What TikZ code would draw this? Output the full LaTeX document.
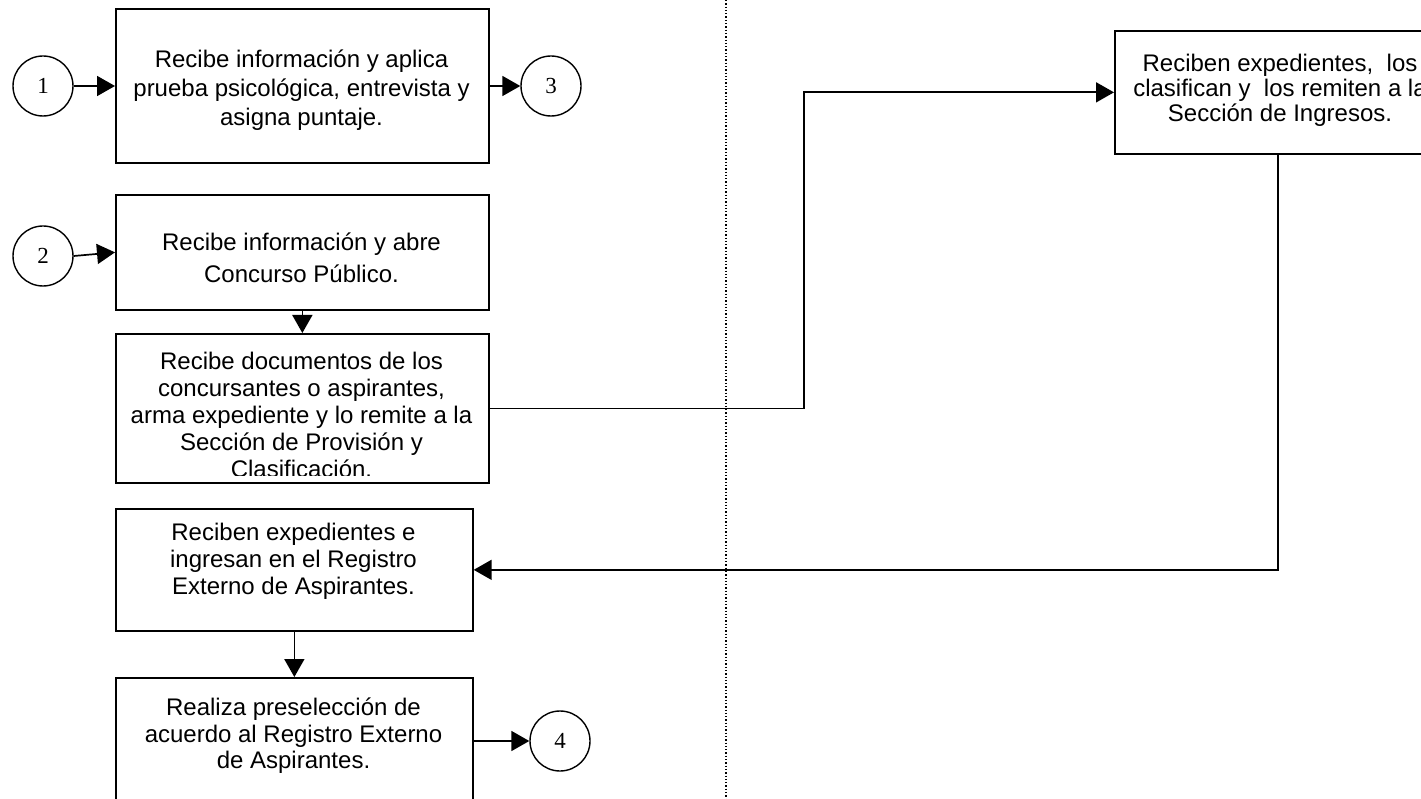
\documentclass[tikz,border=0pt]{standalone}
\usepackage{fontspec}
\setmainfont{Liberation Sans}
\newfontfamily\numfont{Liberation Serif}
\usetikzlibrary{arrows.meta,calc}
\tikzset{
  box/.style={draw, line width=1.7pt, rectangle, inner sep=0pt, anchor=north west},
  txt/.style={align=center, inner sep=0pt, anchor=north,
    font=\fontsize{24pt}{#1}\selectfont, execute at begin node={\rule{0pt}{22pt}}},
  conn/.style={draw, circle, line width=1.4pt, minimum size=60pt, inner sep=0pt, font=\numfont\fontsize{23pt}{25pt}\selectfont},
  arr/.style={line width=1.7pt, -{Triangle[length=18pt,width=20pt]}},
}
\begin{document}
\begin{tikzpicture}[x=1pt,y=1pt]
\useasboundingbox (0,0) rectangle (1421,-799);
\clip (0,0) rectangle (1421,-799);
\fill[white] (0,0) rectangle (1421,-799);
% swimlane separator
\draw[line width=1.3pt, dotted] (726,0) -- (726,-799);
% boxes
\node[box, minimum width=373pt, minimum height=154pt] (b1) at (115,-8) {};
\node[txt=29pt] (t1) at (301.5,-50) {Recibe información y aplica\\prueba psicológica, entrevista y\\asigna puntaje.};
\node[box, minimum width=373pt, minimum height=115pt] (b2) at (115,-194) {};
\node[txt=32pt] (t2) at (301.5,-233) {Recibe información y abre\\Concurso Público.};
\node[box, minimum width=373pt, minimum height=149pt] (b3) at (115,-333) {};
\begin{scope}
\clip (115,-333) rectangle (488,-475);
\node[txt=27pt] (t3) at (301.5,-352) {Recibe documentos de los\\concursantes o aspirantes,\\arma expediente y lo remite a la\\Sección de Provisión y\\Clasificación.};
\end{scope}
\node[box, minimum width=357pt, minimum height=122pt] (b4) at (115,-508) {};
\node[txt=27pt] (t4) at (293.5,-523) {Reciben expedientes e\\ingresan en el Registro\\Externo de Aspirantes.};
\node[box, minimum width=357pt, minimum height=130pt] (b5) at (115,-677) {};
\node[txt=26.5pt] (t5) at (293.5,-698) {Realiza preselección de\\acuerdo al Registro Externo\\de Aspirantes.};
\node[box, minimum width=326pt, minimum height=123pt] (rb) at (1114,-30) {};
\node[txt=25pt] (tr) at (1280,-54) {Reciben expedientes,\ \ los\\clasifican y\ \ los remiten a la\\Sección de Ingresos.};
% connectors (circles)
\node[conn] (c1) at (43,-86) {1};
\node[conn] (c2) at (43,-256) {2};
\node[conn] (c3) at (551,-86) {3};
\node[conn] (c4) at (560,-741) {4};
% arrows
\draw[arr] (c1.east) -- (c1.east -| b1.west);
\draw[arr] (c3.west -| b1.east) -- (c3.west);
\draw[arr] (c2.east) -- (b2.west);
\draw[arr] (b2.south) -- (b3.north);
\draw[arr] (b3.east) -- ++(314,0) |- (rb.west);
\draw[arr] (rb.south) |- (b4.east);
\draw[arr] (b4.south) -- (b5.north);
\draw[arr] (b5.east |- c4.west) -- (c4.west);
\end{tikzpicture}
\end{document}
